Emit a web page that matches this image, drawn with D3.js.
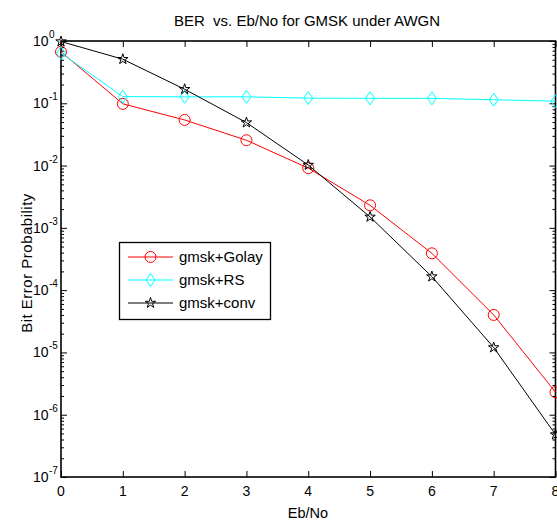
<!DOCTYPE html>
<html>
<head>
<meta charset="utf-8">
<script src="https://cdn.jsdelivr.net/npm/d3@7"></script>
<style>
  body { margin: 0; background: #fff; }
  svg { display: block; font-family: "Liberation Sans", Arial, sans-serif; }
</style>
</head>
<body>
<div id="chart"></div>
<script>
// data
const ebno = [0, 1, 2, 3, 4, 5, 6, 7, 8];
const golay = [0.67, 0.098, 0.054, 0.0255, 0.0091, 0.0023, 3.9e-4, 4.0e-5, 2.3e-6];
const rs = [0.64, 0.128, 0.127, 0.127, 0.121, 0.12, 0.12, 0.114, 0.108];
const conv = [0.98, 0.51, 0.168, 0.049, 0.0102, 1.5e-3, 1.65e-4, 1.2e-5, 4.8e-7];
const xTicks = [0, 1, 2, 3, 4, 5, 6, 7, 8];
const yExponents = [0, -1, -2, -3, -4, -5, -6, -7];
const seriesNames = ['gmsk+Golay', 'gmsk+RS', 'gmsk+conv'];

// const
const width = 557;
const height = 520;
const margin = { top: 41, right: 1.5, bottom: 43, left: 61 };

const svg = d3.select('#chart')
    .append('svg')
    .attr('width', width)
    .attr('height', height);

// scales
const x = d3.scaleLinear()
    .domain([0, 8])
    .range([margin.left, width - margin.right]);
const y = d3.scaleLog()
    .domain([1e-7, 1])
    .range([height - margin.bottom, margin.top]);

const majorY = yExponents.map(e => Math.pow(10, e));
const minorY = [];
yExponents.slice(1).forEach(e => {
    for (let k = 2; k <= 9; k++) minorY.push(k * Math.pow(10, e));
});

// axes (ticks inside, matlab style)
function strip(g) {
    g.select('.domain').remove();
    g.selectAll('.tick line').attr('stroke', '#000').attr('stroke-width', 1);
    g.selectAll('text').remove();
}
svg.append('g')
    .attr('transform', `translate(0, ${y.range()[0]})`)
    .call(d3.axisBottom(x).tickValues(xTicks).tickSize(-6))
    .call(strip);
svg.append('g')
    .attr('transform', `translate(0, ${margin.top})`)
    .call(d3.axisTop(x).tickValues(xTicks).tickSize(-6))
    .call(strip);
svg.append('g')
    .attr('transform', `translate(${margin.left}, 0)`)
    .call(d3.axisLeft(y).tickValues(majorY).tickSize(-6))
    .call(strip);
svg.append('g')
    .attr('transform', `translate(${margin.left}, 0)`)
    .call(d3.axisLeft(y).tickValues(minorY).tickSize(-3))
    .call(strip);
svg.append('g')
    .attr('transform', `translate(${x.range()[1]}, 0)`)
    .call(d3.axisRight(y).tickValues(majorY).tickSize(-6))
    .call(strip);
svg.append('g')
    .attr('transform', `translate(${x.range()[1]}, 0)`)
    .call(d3.axisRight(y).tickValues(minorY).tickSize(-3))
    .call(strip);

// frame
svg.append('rect')
    .attr('x', x.range()[0])
    .attr('y', y.range()[1])
    .attr('width', x.range()[1] - x.range()[0])
    .attr('height', y.range()[0] - y.range()[1])
    .attr('fill', 'none')
    .attr('stroke', '#000')
    .attr('stroke-width', 1.6);

// tick labels
svg.append('g').selectAll('text')
    .data(xTicks)
    .join('text')
    .attr('x', d => x(d))
    .attr('y', y.range()[0] + 19)
    .attr('text-anchor', 'middle')
    .attr('font-size', 14)
    .text(d => d);

svg.append('g').selectAll('text')
    .data(yExponents)
    .join('text')
    .attr('x', 48.5)
    .attr('y', d => y(Math.pow(10, d)) + 5)
    .attr('font-size', 14)
    .attr('text-anchor', 'end')
    .text('10');
svg.append('g').selectAll('text')
    .data(yExponents)
    .join('text')
    .attr('x', 49)
    .attr('y', d => y(Math.pow(10, d)) - 3)
    .attr('font-size', 10)
    .text(d => d === 0 ? '0' : '-' + Math.abs(d));

// titles
svg.append('text')
    .attr('x', 307)
    .attr('y', 26)
    .attr('text-anchor', 'middle')
    .attr('font-size', 15)
    .style('white-space', 'pre')
    .text('BER  vs. Eb/No for GMSK under AWGN');
svg.append('text')
    .attr('x', 308)
    .attr('y', 518)
    .attr('text-anchor', 'middle')
    .attr('font-size', 14.5)
    .text('Eb/No');
svg.append('text')
    .attr('transform', 'translate(32, 263) rotate(-90)')
    .attr('text-anchor', 'middle')
    .attr('font-size', 15)
    .attr('letter-spacing', 0.5)
    .text('Bit Error Probability');

// series
const series = [
    { name: seriesNames[0], values: golay, color: '#ff0000', marker: 'circle' },
    { name: seriesNames[1], values: rs, color: '#00ffff', marker: 'diamond' },
    { name: seriesNames[2], values: conv, color: '#000000', marker: 'star' }
];

const line = d3.line()
    .x((d, i) => x(ebno[i]))
    .y(d => y(d));

function marker(g, type, color) {
    if (type === 'circle') {
        g.append('circle').attr('r', 5.5);
    } else if (type === 'diamond') {
        g.append('path').attr('d', 'M0,-6.5L4.5,0L0,6.5L-4.5,0Z');
    } else {
        g.append('path').attr('d', d3.symbol(d3.symbolStar, 34)());
    }
    g.selectAll('circle, path')
        .attr('fill', 'none')
        .attr('stroke', color)
        .attr('stroke-width', 1);
}

const plot = svg.append('g');
series.forEach(s => {
    plot.append('path')
        .attr('d', line(s.values))
        .attr('fill', 'none')
        .attr('stroke', s.color)
        .attr('stroke-width', 1);
    s.values.forEach((v, i) => {
        const g = plot.append('g').attr('transform', `translate(${x(ebno[i])}, ${y(v)})`);
        marker(g, s.marker, s.color);
    });
});

// legend
const legend = svg.append('g');
legend.append('rect')
    .attr('x', 119.5)
    .attr('y', 242.5)
    .attr('width', 151)
    .attr('height', 77)
    .attr('fill', '#fff')
    .attr('stroke', '#000')
    .attr('stroke-width', 1.3);
const rowY = [257, 280, 303];
series.forEach((s, i) => {
    legend.append('line')
        .attr('x1', 128).attr('x2', 173)
        .attr('y1', rowY[i]).attr('y2', rowY[i])
        .attr('stroke', s.color)
        .attr('stroke-width', 1);
    const g = legend.append('g').attr('transform', `translate(150.5, ${rowY[i]})`);
    marker(g, s.marker, s.color);
    legend.append('text')
        .attr('x', 179)
        .attr('y', rowY[i] + 5)
        .attr('font-size', 15)
        .text(s.name);
});
</script>
</body>
</html>
